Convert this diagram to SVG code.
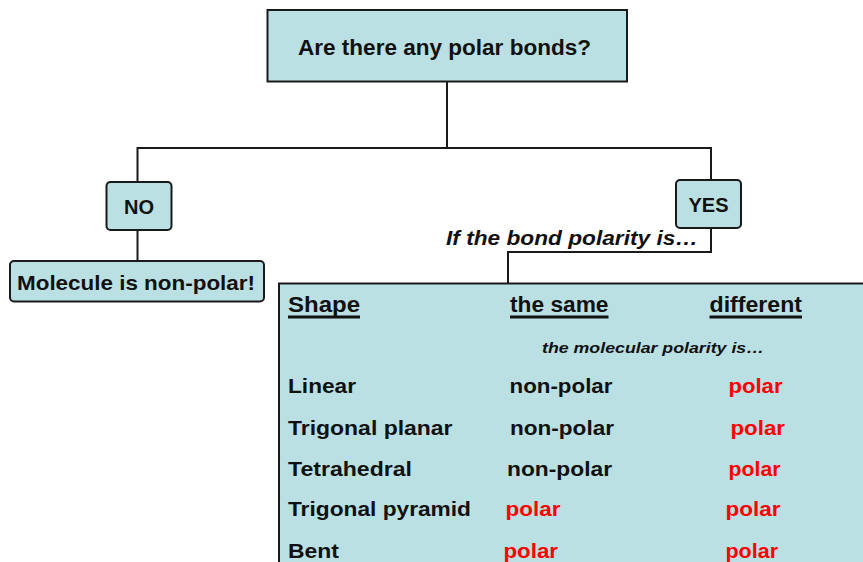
<svg xmlns="http://www.w3.org/2000/svg" width="863" height="562" viewBox="0 0 863 562">
<style>
.box{fill:#bbe0e3;stroke:#1a1a1a;stroke-width:2}
.t{font-family:"Liberation Sans",Arial,sans-serif;font-weight:bold;fill:#111}
.bi{font-family:"Liberation Sans",Arial,sans-serif;font-weight:bold;font-style:italic;fill:#111}
.red{fill:#ff0000}
.con{fill:none;stroke:#1a1a1a;stroke-width:2}
.ul{fill:#111}
</style>
<rect width="863" height="562" fill="#ffffff"/>
<g id="connectors">
<polyline class="con" points="447,81 447,148"/>
<polyline class="con" points="137.5,182 137.5,148 711,148 711,180"/>
<polyline class="con" points="137.5,230 137.5,261"/>
<polyline class="con" points="711,228 711,252 508,252 508,283"/>
</g>
<g id="q">
<rect class="box" x="267.5" y="10" width="359.5" height="71.5"/>
<text class="t" x="298" y="55" font-size="22" textLength="293" lengthAdjust="spacingAndGlyphs">Are there any polar bonds?</text>
</g>
<g id="no">
<rect class="box" x="106.5" y="182" width="65" height="48" rx="4"/>
<text class="t" x="139" y="214" font-size="20" text-anchor="middle">NO</text>
</g>
<g id="yes">
<rect class="box" x="676" y="180" width="65" height="48" rx="4"/>
<text class="t" x="708.5" y="212" font-size="20" text-anchor="middle">YES</text>
</g>
<g id="nonpolar">
<rect class="box" x="10" y="261" width="254" height="40.5" rx="4"/>
<text class="t" x="17" y="290" font-size="21" textLength="238" lengthAdjust="spacingAndGlyphs">Molecule is non-polar!</text>
</g>
<text class="bi" x="446" y="245" font-size="20" textLength="252" lengthAdjust="spacingAndGlyphs">If the bond polarity is…</text>
<g id="table">
<rect class="box" x="279" y="283.5" width="600" height="300"/>
<text class="t" x="288" y="311.5" font-size="22" textLength="72" lengthAdjust="spacingAndGlyphs">Shape</text>
<rect class="ul" x="288" y="315.5" width="72" height="3"/>
<text class="t" x="510" y="311.5" font-size="22" textLength="98.5" lengthAdjust="spacingAndGlyphs">the same</text>
<rect class="ul" x="510" y="315.5" width="98.5" height="3"/>
<text class="t" x="709.5" y="311.5" font-size="22" textLength="92.5" lengthAdjust="spacingAndGlyphs">different</text>
<rect class="ul" x="709.5" y="315.5" width="92.5" height="3"/>
<text class="bi" x="542" y="353" font-size="15.5" textLength="222" lengthAdjust="spacingAndGlyphs">the molecular polarity is…</text>

<text class="t" x="288" y="393" font-size="21" textLength="68" lengthAdjust="spacingAndGlyphs">Linear</text>
<text class="t" x="509.5" y="393" font-size="21" textLength="103" lengthAdjust="spacingAndGlyphs">non-polar</text>
<text class="t red" x="728.5" y="393" font-size="21" textLength="54" lengthAdjust="spacingAndGlyphs">polar</text>

<text class="t" x="288" y="435" font-size="21" textLength="164.5" lengthAdjust="spacingAndGlyphs">Trigonal planar</text>
<text class="t" x="510" y="435" font-size="21" textLength="104" lengthAdjust="spacingAndGlyphs">non-polar</text>
<text class="t red" x="730.5" y="435" font-size="21" textLength="54.5" lengthAdjust="spacingAndGlyphs">polar</text>

<text class="t" x="288" y="475.5" font-size="21" textLength="124" lengthAdjust="spacingAndGlyphs">Tetrahedral</text>
<text class="t" x="507" y="475.5" font-size="21" textLength="105" lengthAdjust="spacingAndGlyphs">non-polar</text>
<text class="t red" x="728.5" y="475.5" font-size="21" textLength="52" lengthAdjust="spacingAndGlyphs">polar</text>

<text class="t" x="288" y="516" font-size="21" textLength="183" lengthAdjust="spacingAndGlyphs">Trigonal pyramid</text>
<text class="t red" x="505.5" y="516" font-size="21" textLength="55" lengthAdjust="spacingAndGlyphs">polar</text>
<text class="t red" x="725.5" y="516" font-size="21" textLength="55" lengthAdjust="spacingAndGlyphs">polar</text>

<text class="t" x="288" y="557.5" font-size="21" textLength="51" lengthAdjust="spacingAndGlyphs">Bent</text>
<text class="t red" x="503.5" y="557.5" font-size="21" textLength="54.5" lengthAdjust="spacingAndGlyphs">polar</text>
<text class="t red" x="725.5" y="557.5" font-size="21" textLength="52.5" lengthAdjust="spacingAndGlyphs">polar</text>
</g>
</svg>
